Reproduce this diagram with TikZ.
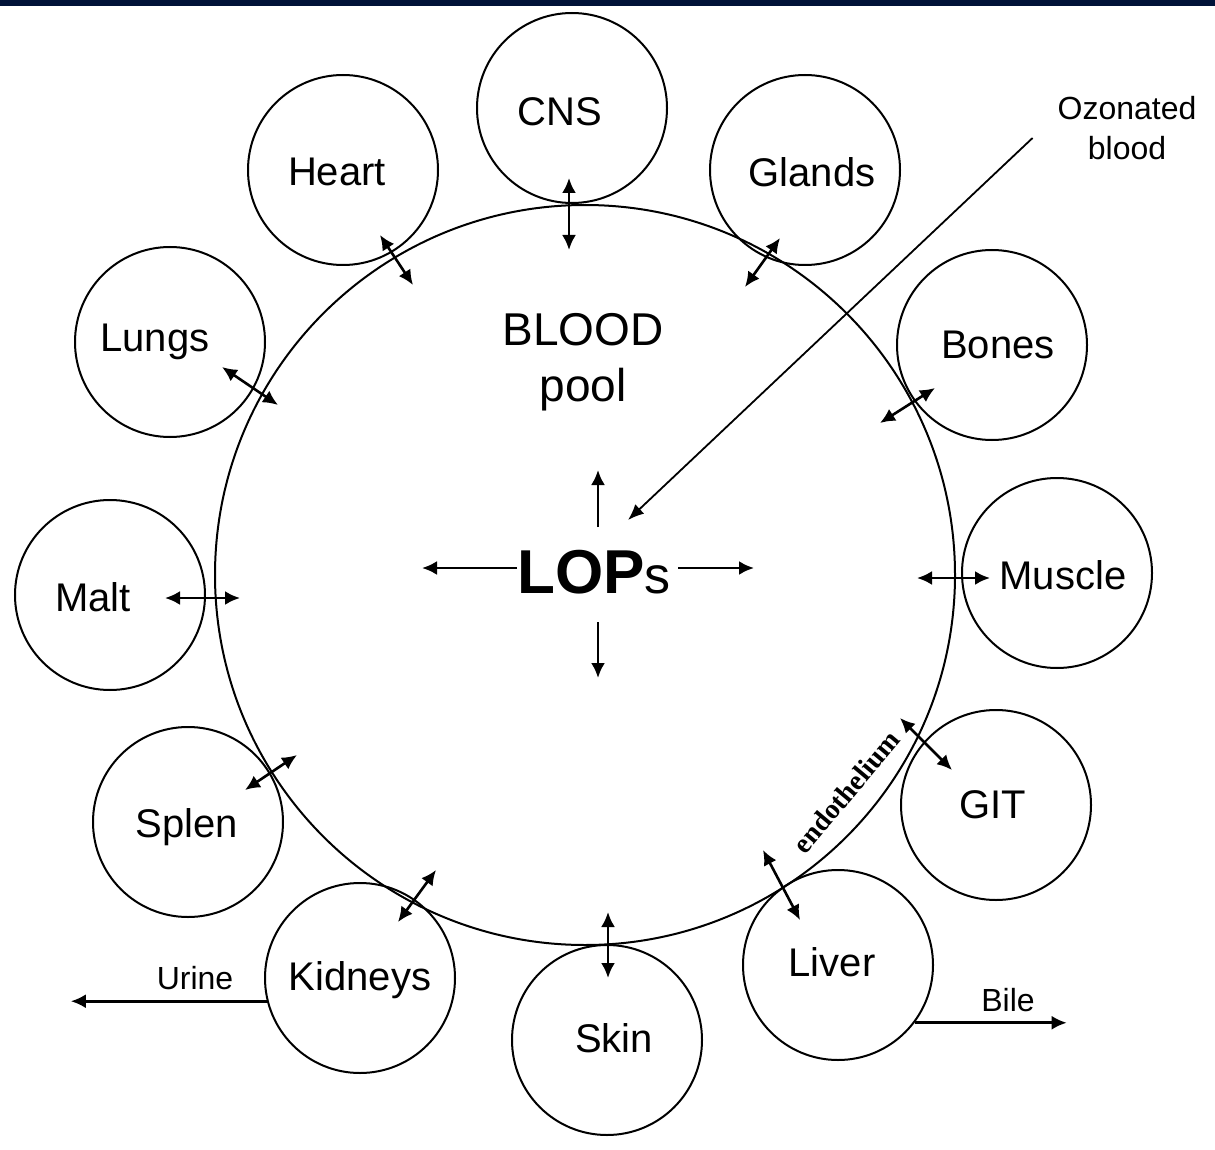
\documentclass[tikz,border=0pt]{standalone}
\usepackage{fontspec}
\setmainfont{Liberation Sans}
\newfontfamily\endofont{Liberation Serif}
\usetikzlibrary{arrows.meta,calc}
\definecolor{barblue}{RGB}{0,18,56}
\begin{document}
\begin{tikzpicture}[x=0.5pt, y=-0.5pt,
	organ/.style={circle, draw, line width=1pt, minimum size=95pt, inner sep=0pt},
	lbl/.style={font=\fontsize{20}{24}\selectfont},
	dbl/.style={{Latex[length=7.5pt,width=7pt]}-{Latex[length=7.5pt,width=7pt]}, line width=1.3pt},
	one/.style={-{Latex[length=7.5pt,width=7pt]}, line width=1.3pt},
	feed/.style={-{Latex[length=8pt,width=6.5pt]}, line width=0.9pt},
	small/.style={font=\fontsize{16}{20}\selectfont}]
	\useasboundingbox (0,0) rectangle (1215,1150);
	\fill[barblue] (0,0) rectangle (1215,6);
	% blood pool
	\node[circle, draw, line width=1pt, minimum size=370pt, inner sep=0pt] (pool) at (585,575) {};
	\node[align=center, font=\fontsize{23}{28}\selectfont] (bloodtxt) at (583,362) {BLOOD\\pool};
	% organs
	\node[organ] (cns) at (572,108) {};
	\node[organ] (heart) at (343,170) {};
	\node[organ] (glands) at (805,170) {};
	\node[organ] (lungs) at (170,342) {};
	\node[organ] (bones) at (992,345) {};
	\node[organ] (malt) at (110,595) {};
	\node[organ] (muscle) at (1057,573) {};
	\node[organ] (splen) at (188,822) {};
	\node[organ] (git) at (996,805) {};
	\node[organ] (kidneys) at (360,978) {};
	\node[organ] (skin) at (607,1040) {};
	\node[organ] (liver) at (838,965) {};
	\node[lbl] (cnstxt) at (560,112) {CNS};
	\node[lbl] (hearttxt) at (337,172) {Heart};
	\node[lbl] (glandstxt) at (812,172) {Glands};
	\node[lbl] (lungstxt) at (155,342) {Lungs};
	\node[lbl] (bonestxt) at (998,345) {Bones};
	\node[lbl] (malttxt) at (93,597) {Malt};
	\node[lbl] (muscletxt) at (1063,575) {Muscle};
	\node[lbl] (splentxt) at (187,827) {Splen};
	\node[lbl] (gittxt) at (993,805) {GIT};
	\node[lbl] (kidneystxt) at (360,980) {Kidneys};
	\node[lbl] (skintxt) at (614,1038) {Skin};
	\node[lbl] (livertxt) at (832,962) {Liver};
	% exchange through the wall
	\draw[dbl] ($(cns)+(-3,70)$) -- ($(cns)+(-3,142)$);
	\draw[dbl] ($(heart)+(37,65)$) -- ($(heart)+(70,115)$);
	\draw[dbl] ($(glands)+(-25,68)$) -- ($(glands)+(-60,117)$);
	\draw[dbl] ($(lungs)+(52,25)$) -- ($(lungs)+(108,63)$);
	\draw[dbl] ($(bones)+(-57,43)$) -- ($(bones)+(-112,78)$);
	\draw[dbl] ($(malt)+(55,3)$) -- ($(malt)+(130,3)$);
	\draw[dbl] ($(muscle)+(-67,5)$) -- ($(muscle)+(-140,5)$);
	\draw[dbl] ($(git)+(-44,-35)$) -- ($(git)+(-96,-87)$);
	\draw[dbl] ($(liver)+(-38,-45)$) -- ($(liver)+(-75,-115)$);
	\draw[dbl] ($(skin)+(1,-62)$) -- ($(skin)+(1,-128)$);
	\draw[dbl] ($(kidneys)+(38,-56)$) -- ($(kidneys)+(76,-108)$);
	\draw[dbl] ($(splen)+(57,-32)$) -- ($(splen)+(109,-67)$);
	% LOPs
	\node (lops) at (594,572) {\fontsize{31}{36}\selectfont\bfseries LOP\fontsize{26}{30}\mdseries\selectfont s};
	\draw[one] ($(lops)+(4,-45)$) -- ($(lops)+(4,-102)$);
	\draw[one] ($(lops)+(4,50)$) -- ($(lops)+(4,106)$);
	\draw[one] ($(lops)+(-77,-4)$) -- ($(lops)+(-172,-4)$);
	\draw[one] ($(lops)+(84,-4)$) -- ($(lops)+(160,-4)$);
	% ozonated blood
	\node[small, align=center] (ozone) at (1127,128) {Ozonated\\blood};
	\coordinate (ozin) at ($(ozone.west)+(-18,10)$);
	\draw[feed] (ozin) -- ($(lops)+(34,-52)$);
	% outputs
	\draw[one] (kidneys.194) -- ++(-196,0) coordinate (urineend);
	\node[small] (urine) at (195,978) {Urine};
	\draw[one] (liver.-37) -- ++(152,0) coordinate (bileend);
	\node[small] (bile) at (1008,1000) {Bile};
	% endothelium
	\node[rotate=50, font=\endofont\fontsize{14}{16}\bfseries\selectfont] (endo) at (846,792) {endothelium};
\end{tikzpicture}
\end{document}
